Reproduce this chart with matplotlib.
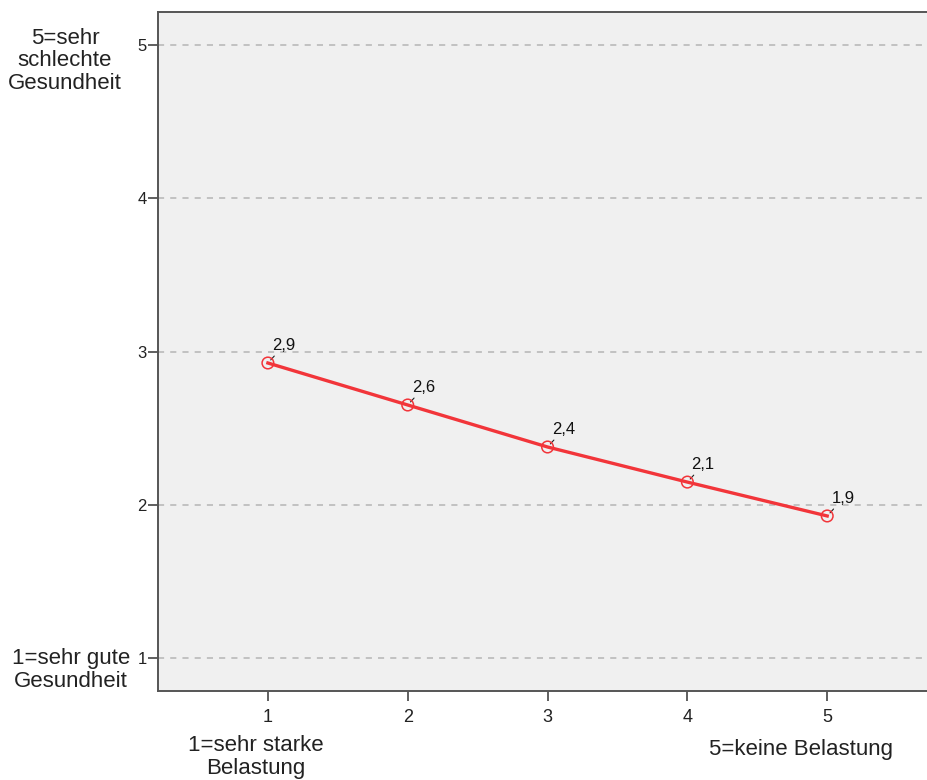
import matplotlib
matplotlib.use("Agg")
import matplotlib.pyplot as plt

plt.rcParams['font.family'] = ['Liberation Sans', 'DejaVu Sans']

# data
belastung = [1, 2, 3, 4, 5]
gesundheit = [2.925, 2.651, 2.377, 2.148, 1.927]
value_labels = ["2,9", "2,6", "2,4", "2,1", "1,9"]
ticks = [1, 2, 3, 4, 5]

RED = '#F2353A'

fig = plt.figure(figsize=(9.27, 7.80), dpi=100)
fig.patch.set_facecolor('white')
ax = fig.add_axes([158 / 927, 89 / 780, 1 - 158 / 927 + 0.01, (691 - 12) / 780])
ax.set_facecolor('#F0F0F0')

for t in ticks:
    ax.axhline(t, color='#B4B4B4', lw=1.1, ls=(0, (4, 4)), zorder=1)

ax.plot(belastung, gesundheit, color=RED, lw=2.4, zorder=3)
ax.scatter(belastung, gesundheit, s=70, facecolors='none', edgecolors=RED,
           linewidths=1.1, zorder=4)

for x, y, lab in zip(belastung, gesundheit, value_labels):
    ax.annotate(lab, xy=(x, y), xytext=(3, 7), textcoords='offset points',
                fontsize=12, color='#111111', ha='left', va='bottom',
                arrowprops=dict(arrowstyle='-', color='#222222', lw=0.8,
                                shrinkA=0, shrinkB=3))

ax.set_xlim(0.214, 5.78)
ax.set_ylim(0.785, 5.215)
ax.set_xticks(ticks)
ax.set_yticks(ticks)
ax.tick_params(axis='both', direction='out', length=7, width=1.2,
               color='#444444', labelcolor='#222222')
ax.tick_params(axis='y', pad=1, labelsize=12)
ax.tick_params(axis='x', pad=6, labelsize=13)
for side in ['left', 'bottom', 'top']:
    ax.spines[side].set_color('#555555')
    ax.spines[side].set_linewidth(1.4)
ax.spines['right'].set_visible(False)

# axis end labels
fig.text(65 / 927, 1 - 61 / 780, "5=sehr\nschlechte\nGesundheit", ha='center',
         va='center', fontsize=16, color='#222222', linespacing=1.12)
fig.text(71 / 927, 1 - 670 / 780, "1=sehr gute\nGesundheit", ha='center',
         va='center', fontsize=16, color='#222222', linespacing=1.12)
fig.text(256 / 927, 1 - 757 / 780, "1=sehr starke\nBelastung", ha='center',
         va='center', fontsize=16, color='#222222', linespacing=1.12)
fig.text(801 / 927, 1 - 750 / 780, "5=keine Belastung", ha='center',
         va='center', fontsize=16, color='#222222')

fig.savefig("out.png", dpi=100)
